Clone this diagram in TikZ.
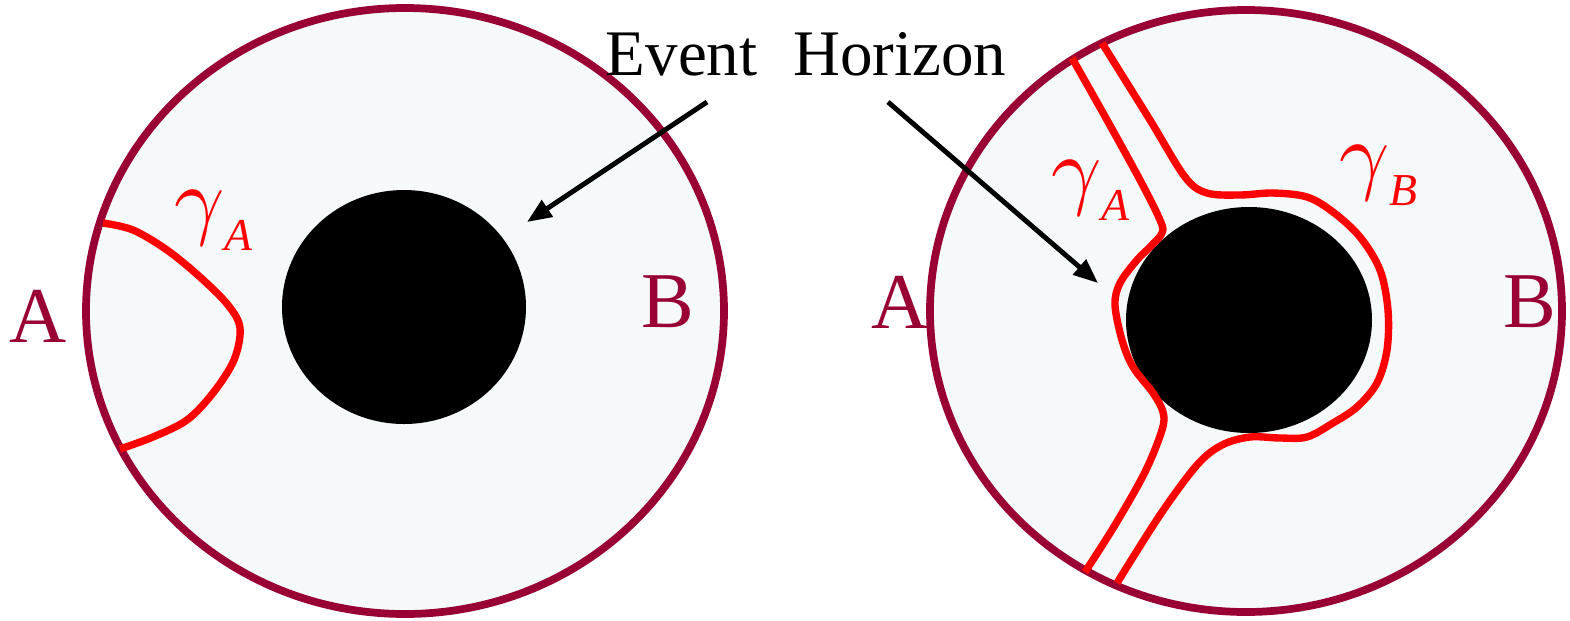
\documentclass[tikz,border=0pt]{standalone}
\usepackage{fontspec}
\setmainfont{Liberation Serif}
\usetikzlibrary{arrows.meta}
\definecolor{rimred}{HTML}{990033}
\definecolor{bulkfill}{HTML}{F5F9FA}
\newcommand{\geolabel}[1]{\scalebox{5}{$\gamma$}\raisebox{-13pt}{\fontsize{26}{30}\selectfont\itshape #1}}

\begin{document}
\begin{tikzpicture}[x=0.02cm, y=-0.02cm,
	every node/.style={inner sep=0pt},
	rim/.style={draw=rimred, fill=bulkfill, line width=4.4pt},
	geod/.style={red, line width=4.2pt, line join=round},
	side/.style={text=rimred, anchor=base, font=\fontsize{45}{50}\selectfont},
	glabel/.style={text=red, anchor=base west},
	pointer/.style={line width=2.8pt, -{Triangle[length=14pt, width=11pt]}}]
	\useasboundingbox (0,0) rectangle (1570,620);
	\begin{scope}
		\draw[rim] (405,311) ellipse (319 and 303);
		\fill (404,307) ellipse (122 and 117);
		\draw[geod] plot[smooth, tension=0.55] coordinates {(103,223) (133,230) (167,250) (200,277) (228,305) (240,328) (234,360) (213,393) (187,420) (153,437) (120,449)};
		\node[side] (lA) at (38,342) {A};
		\node[side] (lB) at (668,327) {B};
		\node[glabel] (lgA) at (174,228) {\geolabel{A}};
	\end{scope}
	\begin{scope}
		\draw[rim] (1246,311) ellipse (316 and 301);
		\fill (1249,320) ellipse (123 and 113);
		\draw[geod] plot[smooth, tension=0.55] coordinates {(1072,58) (1107,120) (1140,180) (1160,220) (1162,233) (1150,247) (1137,260) (1120,283) (1115,305) (1122,340) (1133,367) (1153,393) (1163,412) (1162,430) (1145,472) (1115,525) (1085,572)};
		\draw[geod] plot[smooth, tension=0.55] coordinates {(1102,43) (1150,120) (1185,177) (1207,193) (1240,195) (1273,193) (1307,197) (1333,212) (1360,237) (1380,270) (1388,310) (1387,350) (1377,383) (1357,407) (1333,423) (1307,437) (1280,438) (1250,437) (1222,445) (1197,465) (1160,515) (1117,583)};
		\node[side] (rA) at (900,328) {A};
		\node[side] (rB) at (1530,327) {B};
		\node[glabel] (rgA) at (1051,198) {\geolabel{A}};
		\node[glabel] (rgB) at (1339,183) {\geolabel{B}};
	\end{scope}
	\node[anchor=base, font=\fontsize{37}{42}\selectfont] (horizon) at (806,75) {Event\hspace{0.3em} Horizon};
	\coordinate (fromL) at (707,102);
	\coordinate (toL) at (527,222);
	\coordinate (fromR) at (888,102);
	\coordinate (toR) at (1098,283);
	\draw[pointer] (fromL) -- (toL);
	\draw[pointer] (fromR) -- (toR);
\end{tikzpicture}
\end{document}
